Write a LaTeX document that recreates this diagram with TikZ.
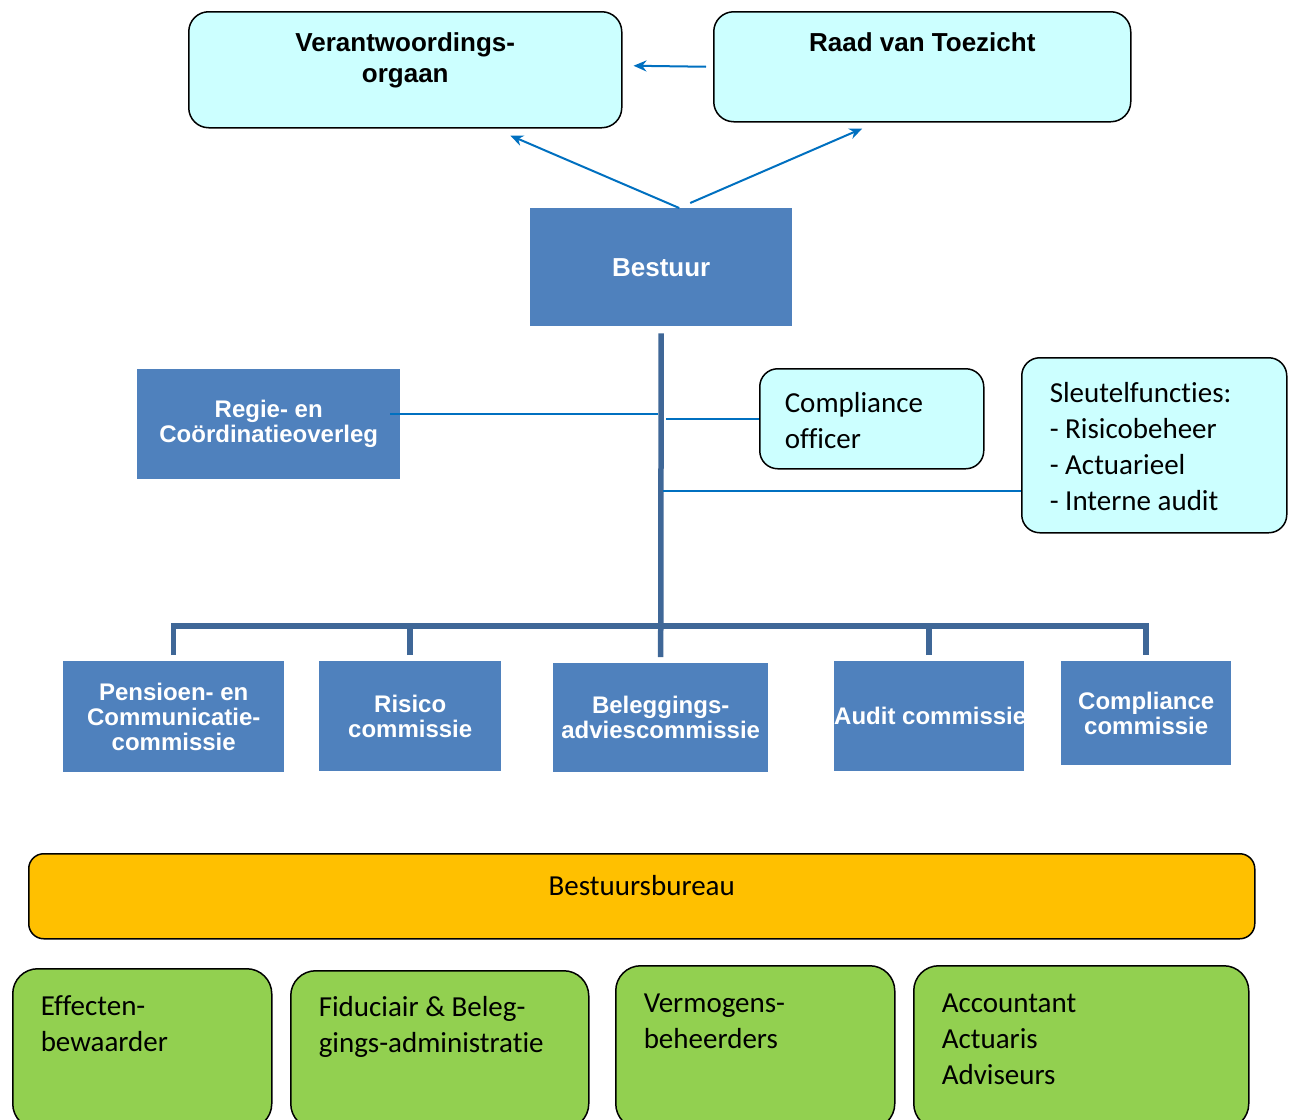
\documentclass[tikz,border=0pt]{standalone}
\usepackage{fontspec}
\setmainfont{Carlito}[Ligatures=NoCommon]
\setsansfont{Liberation Sans}
\usetikzlibrary{arrows.meta}
\definecolor{lightcyan}{HTML}{CCFFFF}
\definecolor{boxblue}{HTML}{4F81BD}
\definecolor{busblue}{HTML}{3F6797}
\definecolor{linkblue}{HTML}{0070C0}
\definecolor{bureauyellow}{HTML}{FFC000}
\definecolor{partnergreen}{HTML}{92D050}
\tikzstyle{toezicht} = [rectangle, rounded corners=20pt, draw=black, line width=1.5pt, fill=lightcyan, anchor=north west, inner sep=0pt, text height=40pt, align=flush center, font=\sffamily\bfseries\fontsize{26}{31}\selectfont]
\tikzstyle{orgaan} = [rectangle, fill=boxblue, anchor=north west, inner xsep=0pt, align=flush center, text=white, font=\sffamily\bfseries\fontsize{24}{25}\selectfont]
\tikzstyle{functie} = [rectangle, rounded corners=18pt, draw=black, line width=1.5pt, fill=lightcyan, anchor=north west, inner ysep=0pt, align=flush left, font=\fontsize{29}{36}\selectfont]
\tikzstyle{bureau} = [rectangle, rounded corners=15pt, draw=black, line width=1.5pt, fill=bureauyellow, anchor=north west, inner sep=0pt, text height=42pt, align=flush center, font=\fontsize{29}{36}\selectfont]
\tikzstyle{partner} = [rectangle, rounded corners=25pt, draw=black, line width=1.5pt, fill=partnergreen, anchor=north west, inner xsep=28pt, inner ysep=0pt, text height=47pt, align=flush left, font=\fontsize{29}{36}\selectfont]
\tikzstyle{arrow} = [line width=2pt, draw=linkblue, -{Stealth[length=13pt, width=11pt]}]
\tikzstyle{link} = [line width=2pt, draw=linkblue]
\tikzstyle{bus} = [line width=5.5pt, draw=busblue]

\begin{document}
\begin{tikzpicture}[x=1pt, y=-1pt]
\useasboundingbox (0,0) rectangle (1290,1119);

% Nodes
\node (vo) [toezicht, text width=433pt, text depth=76pt] at (188,11) {Verantwoordings-\\orgaan};
\node (rvt) [toezicht, text width=417pt, text depth=70pt] at (713,11) {Raad van Toezicht};
\node (bestuur) [orgaan, text width=262pt, minimum height=118pt, font=\sffamily\bfseries\fontsize{26}{31}\selectfont] at (530,208) {Bestuur};
\node (regie) [orgaan, text width=263pt, minimum height=110pt] at (137,369) {Regie- en\\Coördinatieoverleg};
\node (officer) [functie, inner xsep=25pt, text width=174pt, text height=44pt, text depth=56pt] at (759,368) {Compliance\\officer};
\node (sleutel) [functie, inner xsep=28pt, text width=209pt, text height=45pt, text depth=130pt] at (1021,357) {Sleutelfuncties:\\- Risicobeheer\\- Actuarieel\\- Interne audit};
\coordinate (bus) at (661,626);
\node (pensioen) [orgaan, text width=221pt, minimum height=111pt] at (63,661) {Pensioen- en\\Communicatie-\\commissie};
\node (risico) [orgaan, text width=182pt, minimum height=110pt] at (319,661) {Risico\\commissie};
\node (beleg) [orgaan, text width=215pt, minimum height=109pt] at (553,663) {Beleggings-\\adviescommissie};
\node (audit) [orgaan, text width=190pt, minimum height=110pt] at (834,661) {\mbox{Audit commissie}};
\node (compcie) [orgaan, text width=170pt, minimum height=104pt] at (1061,661) {Compliance\\commissie};
\node (bbureau) [bureau, text width=1226pt, text depth=43pt] at (28,853) {Bestuursbureau};
\node (effecten) [partner, text width=203pt, text depth=113pt] at (12,968) {Effecten-\\bewaarder};
\node (fiduciair) [partner, text width=242pt, text height=46pt, text depth=112pt] at (290,970) {Fiduciair \& Beleg-\\gings-administratie};
\node (vermogens) [partner, text width=223pt, text depth=116pt] at (615,965) {Vermogens-\\beheerders};
\node (accountant) [partner, text width=279pt, text depth=116pt] at (913,965) {Accountant\\Actuaris\\Adviseurs};

% Arrows
\draw [arrow] ([xshift=-7pt]rvt.west) -- ([shift={(11,-4)}]vo.east);
\draw [arrow] ([xshift=18pt]bestuur.north) -- ([shift={(105,7)}]vo.south);
\draw [arrow] ([shift={(29,-5)}]bestuur.north) -- ([shift={(-60,6)}]rvt.south);

% Lines
\draw [bus] ([yshift=-7pt]bestuur.south) -- ([yshift=6pt]beleg.north);
\draw [bus] ([yshift=6pt]pensioen.north) |- (bus) -| ([yshift=6pt]compcie.north);
\draw [bus] ([yshift=6pt]risico.north) -- (risico.north |- bus);
\draw [bus] ([yshift=6pt]audit.north) -- (audit.north |- bus);
\draw [link] ([shift={(-10,-10)}]regie.east) -- ([shift={(-3,-10)}]regie.east -| bestuur.south);
\draw [link] (officer.west) -- ([xshift=5pt]officer.west -| bestuur.south);
\draw [link] ([shift={(0,46)}]sleutel.west) -- ([shift={(2,46)}]sleutel.west -| bestuur.south);

\end{tikzpicture}
\end{document}
